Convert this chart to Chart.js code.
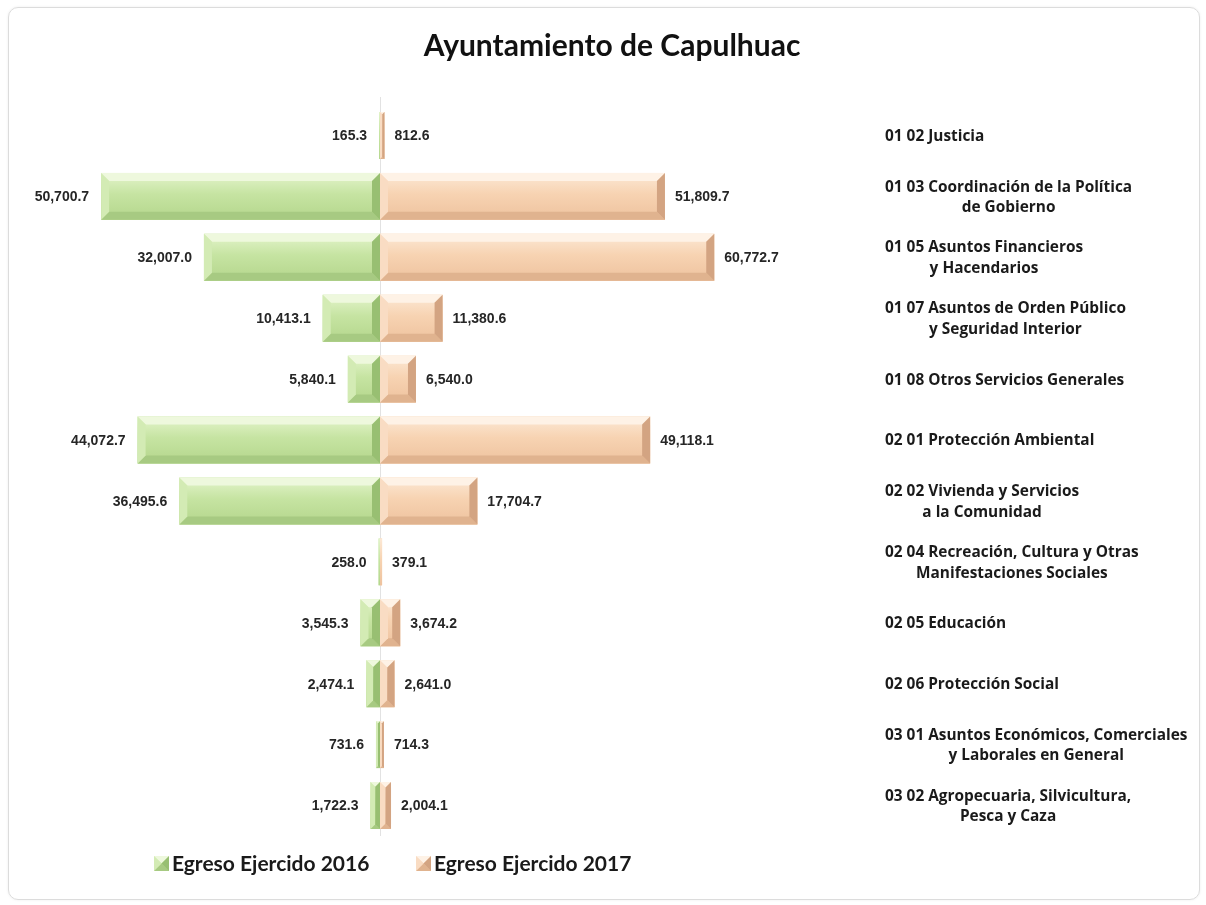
<!DOCTYPE html>
<html>
<head>
<meta charset="utf-8">
<script src="https://cdn.jsdelivr.net/npm/chart.js@4.4.1/dist/chart.umd.min.js"></script>
<style>
html,body{margin:0;padding:0;background:#fff;}
#wrap{position:relative;width:1206px;height:905px;overflow:hidden;}
#frame{position:absolute;left:8px;top:7px;width:1192px;height:893px;border:1px solid #dcdcdc;border-radius:10px;box-sizing:border-box;box-shadow:0 0 3px rgba(0,0,0,0.07);}
canvas{position:absolute;left:0;top:0;}
</style>
</head>
<body>
<div id="wrap"><div id="frame"></div><canvas id="c" width="1206" height="905"></canvas></div>
<script>
// ---------- data ----------
const title = 'Ayuntamiento de Capulhuac';
const categories = [
  ['01 02 Justicia'],
  ['01 03 Coordinación de la Política', 'de Gobierno'],
  ['01 05 Asuntos Financieros', 'y Hacendarios'],
  ['01 07 Asuntos de Orden Público', 'y Seguridad Interior'],
  ['01 08 Otros Servicios Generales'],
  ['02 01 Protección Ambiental'],
  ['02 02 Vivienda y Servicios', 'a la Comunidad'],
  ['02 04 Recreación, Cultura y Otras', 'Manifestaciones Sociales'],
  ['02 05 Educación'],
  ['02 06 Protección Social'],
  ['03 01 Asuntos Económicos, Comerciales', 'y Laborales en General'],
  ['03 02 Agropecuaria, Silvicultura,', 'Pesca y Caza']
];
const seriesNames = ['Egreso Ejercido 2016', 'Egreso Ejercido 2017'];
const egreso2016 = [165.3, 50700.7, 32007.0, 10413.1, 5840.1, 44072.7, 36495.6, 258.0, 3545.3, 2474.1, 731.6, 1722.3];
const egreso2017 = [812.6, 51809.7, 60772.7, 11380.6, 6540.0, 49118.1, 17704.7, 379.1, 3674.2, 2641.0, 714.3, 2004.1];

// ---------- style ----------
const X_MIN = -64545, X_MAX = 89091;
const PAL = [
  {face:'#c4e3a0', hi:'#e4f4cc', mid:'#c6e4a2', lo:'#b4d68c', top:'#eef8dd', left:'#d3ebb4', right:'#98bf72', bottom:'#a7ca82'},
  {face:'#f7d2b0', hi:'#fce9d6', mid:'#f7d3b2', lo:'#eec29e', top:'#fef2e6', left:'#f9dcc3', right:'#d3a482', bottom:'#e0b38f'}
];
const LABEL_FONT = 'bold 14px "Liberation Sans", Arial, sans-serif';
const CAT_FONT = 'bold 15.4px "Open Sans", Lato, sans-serif';
const LEGEND_FONT = 'bold 21px Lato, "Open Sans", sans-serif';
const LEGEND_X = [154, 416];
const LEGEND_Y = 863;

function fmt(v){
  return v.toLocaleString('en-US',{minimumFractionDigits:1, maximumFractionDigits:1});
}

function drawBevelRect(ctx, L, R, T, B, p){
  const w = R - L, h = B - T;
  if (w <= 0) return;
  const g = ctx.createLinearGradient(0, T, 0, B);
  g.addColorStop(0, p.hi); g.addColorStop(0.45, p.mid); g.addColorStop(1, p.lo);
  ctx.fillStyle = g;
  ctx.fillRect(L, T, w, h);
  const b = Math.min(8, w / 2, h / 2);
  if (b < 1.5) return;
  const poly = (pts, c) => { ctx.beginPath(); ctx.moveTo(pts[0][0], pts[0][1]); for (let i=1;i<pts.length;i++) ctx.lineTo(pts[i][0], pts[i][1]); ctx.closePath(); ctx.fillStyle = c; ctx.fill(); };
  poly([[L,T],[R,T],[R-b,T+b],[L+b,T+b]], p.top);
  poly([[L,B],[R,B],[R-b,B-b],[L+b,B-b]], p.bottom);
  poly([[L,T],[L+b,T+b],[L+b,B-b],[L,B]], p.left);
  poly([[R,T],[R-b,T+b],[R-b,B-b],[R,B]], p.right);
}

const butterflyPlugin = {
  id: 'butterfly',
  beforeDatasetsDraw(chart){
    const {ctx, chartArea, scales} = chart;
    const x0 = Math.round(scales.x.getPixelForValue(0)) + 0.5;
    ctx.save();
    ctx.strokeStyle = '#e2e2e2';
    ctx.lineWidth = 1;
    ctx.beginPath(); ctx.moveTo(x0, chartArea.top - 8); ctx.lineTo(x0, chartArea.bottom); ctx.stroke();
    ctx.restore();
  },
  afterDatasetsDraw(chart){
    const ctx = chart.ctx;
    ctx.save();
    chart.data.datasets.forEach((ds, di) => {
      const meta = chart.getDatasetMeta(di);
      meta.data.forEach((el, i) => {
        const pr = el.getProps(['x','y','base','height'], true);
        const L = Math.min(pr.x, pr.base), R = Math.max(pr.x, pr.base);
        const T = pr.y - pr.height/2, B = pr.y + pr.height/2;
        drawBevelRect(ctx, L, R, T, B, PAL[di]);
        // value label
        ctx.font = LABEL_FONT;
        ctx.fillStyle = '#262626';
        ctx.textBaseline = 'middle';
        const raw = di === 0 ? egreso2016[i] : egreso2017[i];
        if (di === 0) { ctx.textAlign = 'right'; ctx.fillText(fmt(raw), L - 12, pr.y + 1); }
        else { ctx.textAlign = 'left'; ctx.fillText(fmt(raw), R + 10, pr.y + 1); }
      });
    });
    ctx.restore();
  },
  afterDraw(chart){
    const {ctx, chartArea, scales} = chart;
    ctx.save();
    // category labels
    ctx.font = CAT_FONT;
    ctx.fillStyle = '#1a1a1a';
    ctx.textBaseline = 'middle';
    ctx.textAlign = 'center';
    const xl = chartArea.right + 15;
    chart.data.labels.forEach((lines, i) => {
      const yc = scales.y.getPixelForValue(i);
      const maxW = Math.max(...lines.map(s => ctx.measureText(s).width));
      const cx = xl + maxW / 2;
      lines.forEach((s, j) => {
        ctx.fillText(s, cx, yc + (j - (lines.length - 1) / 2) * 20.5 + 1);
      });
    });
    // legend
    chart.data.datasets.forEach((ds, di) => {
      const x = LEGEND_X[di], y = LEGEND_Y;
      drawBevelRect(ctx, x, x + 15, y - 7, y + 8, PAL[di]);
      ctx.font = LEGEND_FONT;
      ctx.fillStyle = '#1a1a1a';
      ctx.textAlign = 'left';
      ctx.textBaseline = 'middle';
      ctx.fillText(ds.label, x + 18, y + 1);
    });
    ctx.restore();
  }
};

new Chart(document.getElementById('c'), {
  type: 'bar',
  data: {
    labels: categories,
    datasets: [
      { label: seriesNames[0], data: egreso2016.map(v => -v), backgroundColor: PAL[0].face, borderWidth: 0 },
      { label: seriesNames[1], data: egreso2017, backgroundColor: PAL[1].face, borderWidth: 0 }
    ]
  },
  options: {
    indexAxis: 'y',
    responsive: false,
    animation: false,
    categoryPercentage: 1,
    barPercentage: 0.77,
    layout: { padding: { left: 25, right: 7, top: 10, bottom: 69 } },
    scales: {
      x: { type: 'linear', stacked: true, display: false, min: X_MIN, max: X_MAX },
      y: {
        stacked: true, position: 'right', display: true,
        ticks: { display: false }, grid: { display: false }, border: { display: false },
        afterFit: (s) => { s.width = 329; }
      }
    },
    plugins: {
      legend: { display: false },
      tooltip: { enabled: false },
      title: {
        display: true, text: title, color: '#111',
        font: { family: 'Lato, "Open Sans", sans-serif', size: 30, weight: 'bold' },
        padding: { top: 18, bottom: 41 }
      }
    }
  },
  plugins: [butterflyPlugin]
});
</script>
</body>
</html>
